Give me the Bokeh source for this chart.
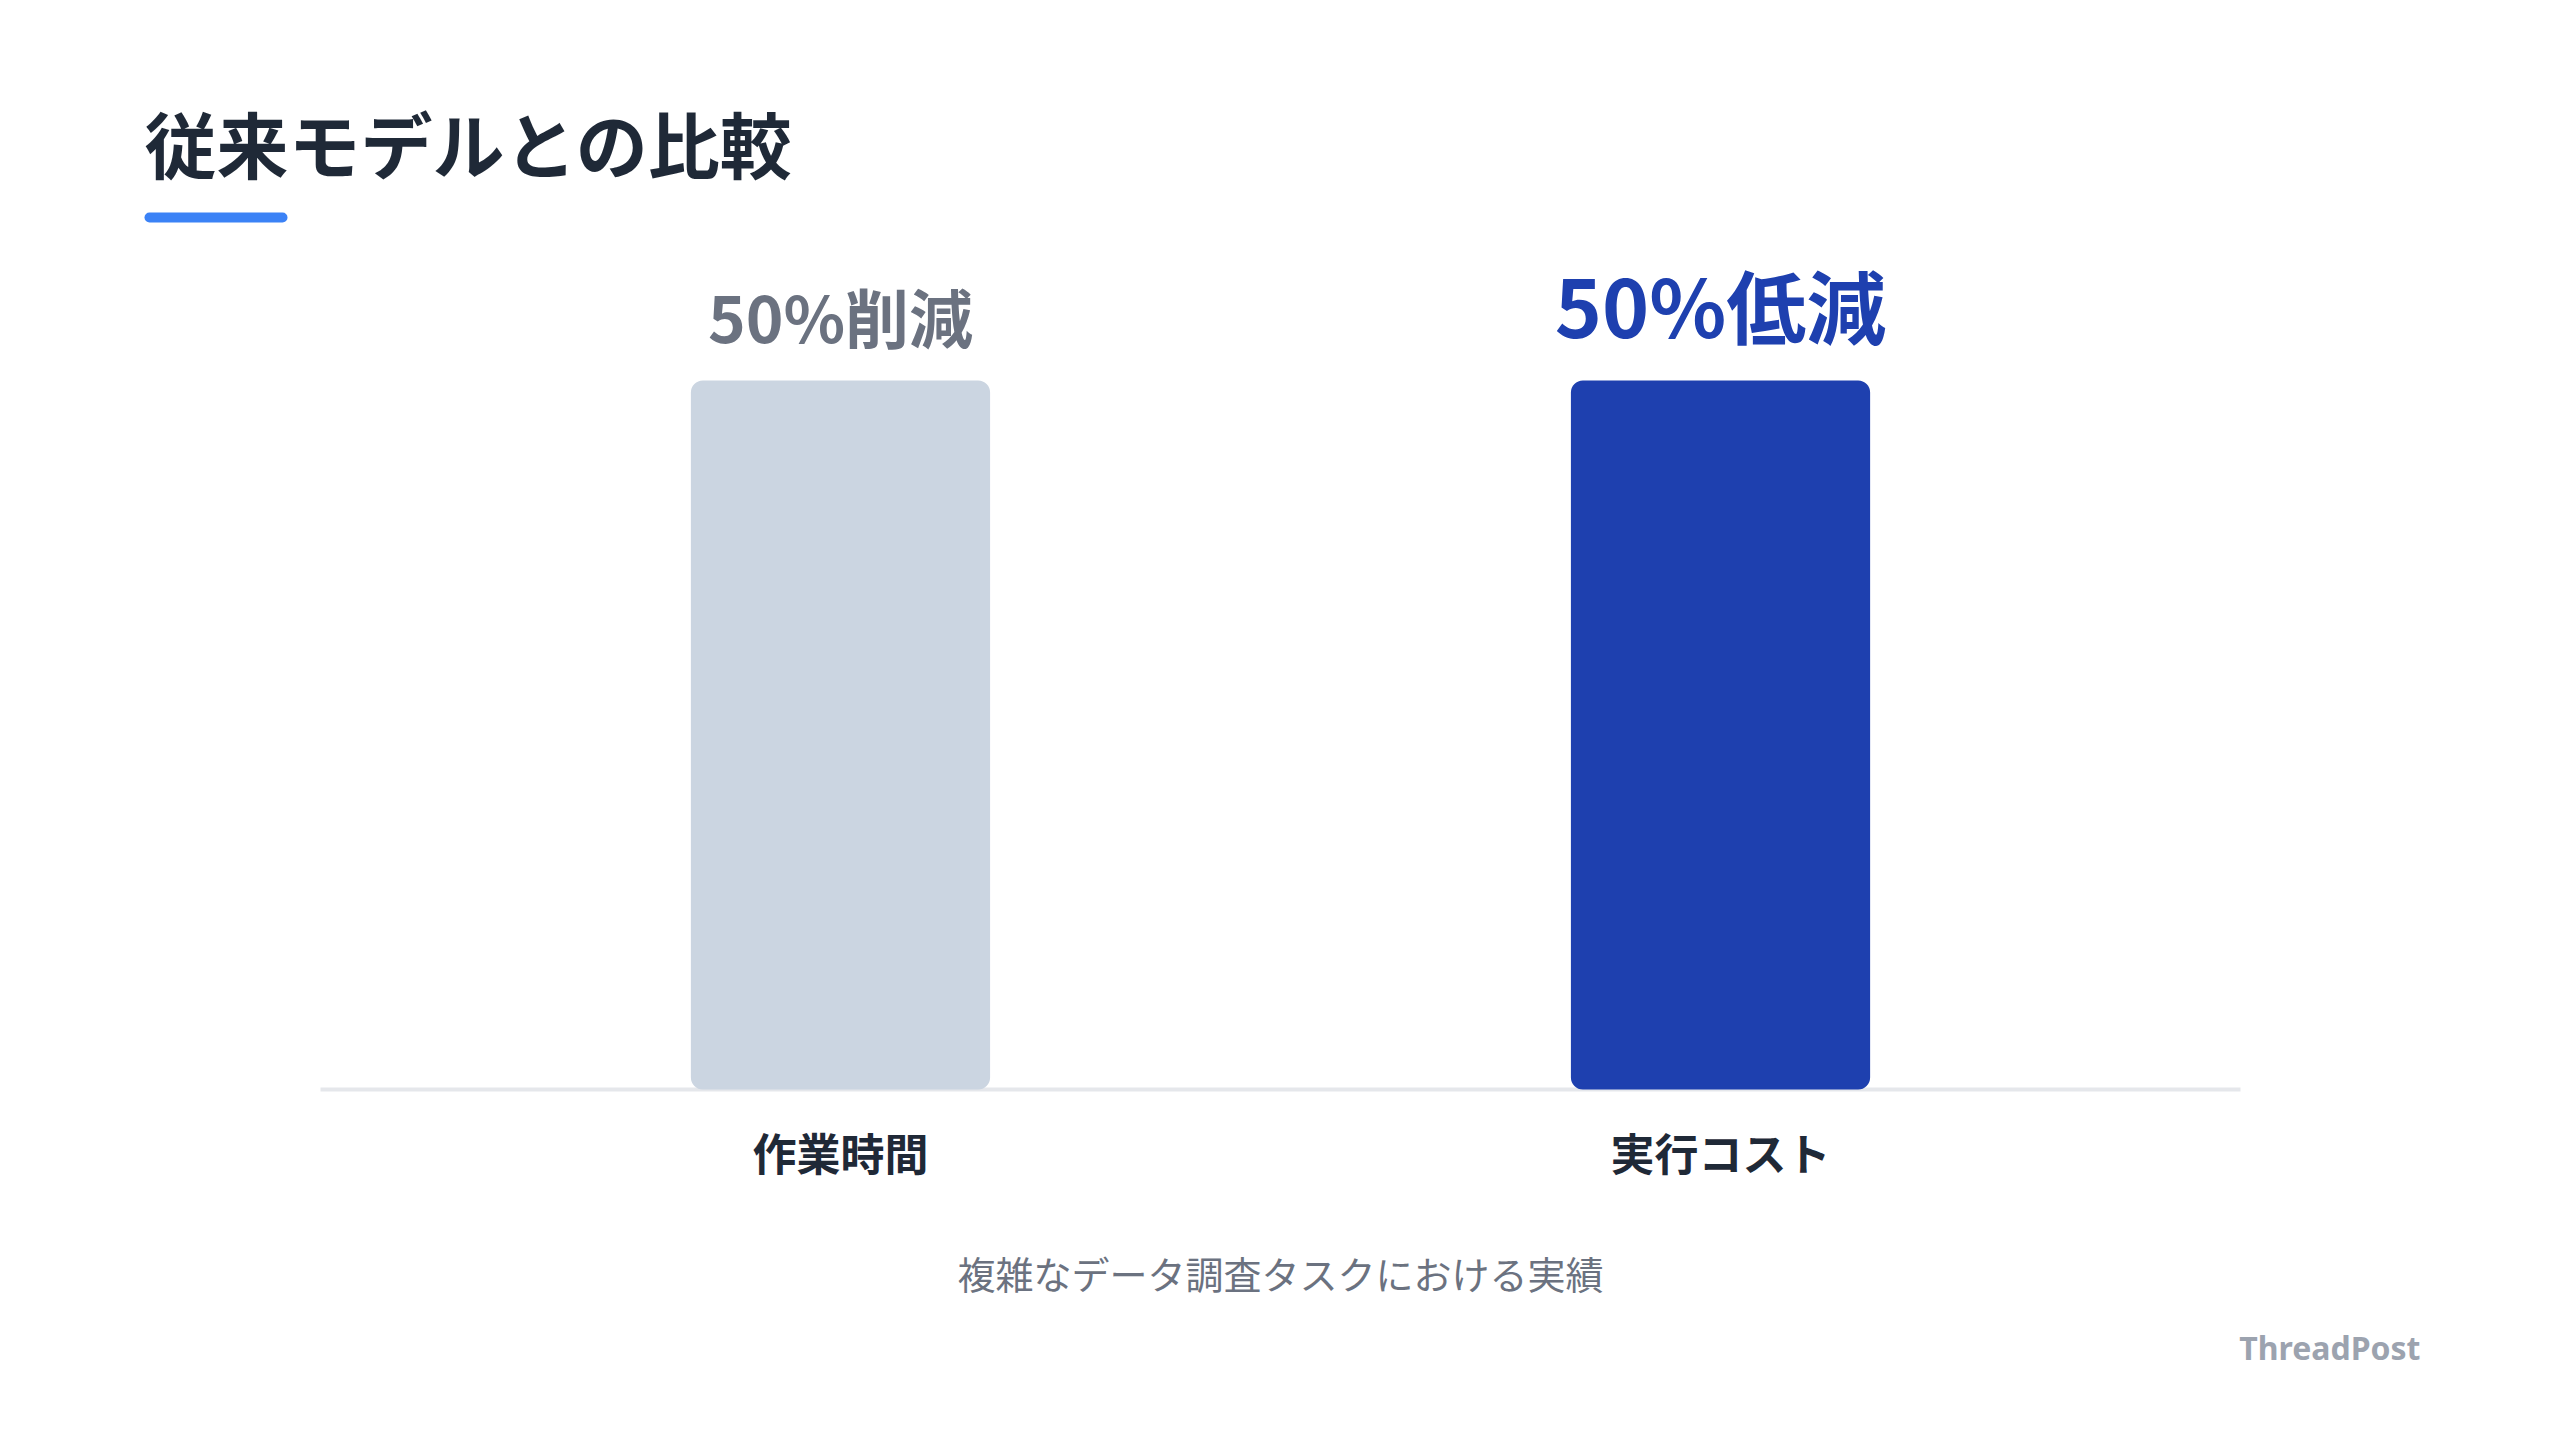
from bokeh.plotting import figure
from bokeh.models import ColumnDataSource, Range1d, Label, BoxAnnotation
from bokeh.core.properties import value
from bokeh.embed import file_html
from bokeh.resources import INLINE

# ---- data ----
categories = ["作業時間", "実行コスト"]
values = [50, 50]
value_labels = ["50%削減", "50%低減"]
bar_colors = ["#cbd5e1", "#1e40af"]
label_colors = ["#6b7280", "#1e40af"]
label_sizes = ["64px", "80px"]
title_text = "従来モデルとの比較"
subtitle_text = "複雑なデータ調査タスクにおける実績"
brand_text = "ThreadPost"

FONT = "Noto Sans CJK JP"
W, H = 2560, 1440

xs = list(range(len(categories)))
src = ColumnDataSource(dict(x=xs, top=values, cat=categories, lab=value_labels,
                            bc=bar_colors, lc=label_colors, ls=label_sizes))

p = figure(width=W, height=H, output_backend="svg", toolbar_location=None,
           x_axis_type=None, y_axis_type=None,
           x_range=Range1d(-0.9545, 1.9545), y_range=Range1d(-24.75, 76.80),
           min_border=0, min_border_left=0, min_border_right=0,
           min_border_top=0, min_border_bottom=0)
p.outline_line_color = None
p.background_fill_color = "white"
p.border_fill_color = "white"
p.xgrid.visible = False
p.ygrid.visible = False

# baseline
p.add_layout(BoxAnnotation(left=320, right=2240, top=353, bottom=349,
                           left_units="screen", right_units="screen",
                           top_units="screen", bottom_units="screen",
                           fill_color="#e5e7eb", fill_alpha=1, line_alpha=0,
                           level="underlay"))

p.vbar(x="x", top="top", bottom=0, width=0.34, source=src,
       fill_color="bc", line_color=None, border_radius=12)

p.text(x="x", y="top", text="lab", source=src, text_color="lc",
       text_font_size="ls", text_font=value(FONT), text_font_style="bold",
       text_align="center", text_baseline="bottom", y_offset=-20)

p.text(x="x", y=0, text="cat", source=src, text_color="#1f2937",
       text_font_size="44px", text_font=value(FONT), text_font_style="bold",
       text_align="center", text_baseline="middle", y_offset=62)

# title
p.add_layout(Label(x=144, y=1299, x_units="screen", y_units="screen",
                   text=title_text, text_font=FONT, text_font_style="bold",
                   text_font_size="72px", text_color="#1f2937",
                   text_align="left", text_baseline="middle"))
# underline accent
p.add_layout(BoxAnnotation(left=144, right=287, top=1228, bottom=1218,
                           left_units="screen", right_units="screen",
                           top_units="screen", bottom_units="screen",
                           fill_color="#3b82f6", fill_alpha=1, line_alpha=0,
                           border_radius=5))
# subtitle
p.add_layout(Label(x=1280, y=168, x_units="screen", y_units="screen",
                   text=subtitle_text, text_font=FONT,
                   text_font_size="38px", text_color="#6b7280",
                   text_align="center", text_baseline="middle"))
# brand
p.add_layout(Label(x=2420, y=93, x_units="screen", y_units="screen",
                   text=brand_text, text_font="Noto Sans", text_font_style="bold",
                   text_font_size="32px", text_color="#9ca3af",
                   text_align="right", text_baseline="middle"))

open("out.html", "w").write(file_html(p, INLINE))
